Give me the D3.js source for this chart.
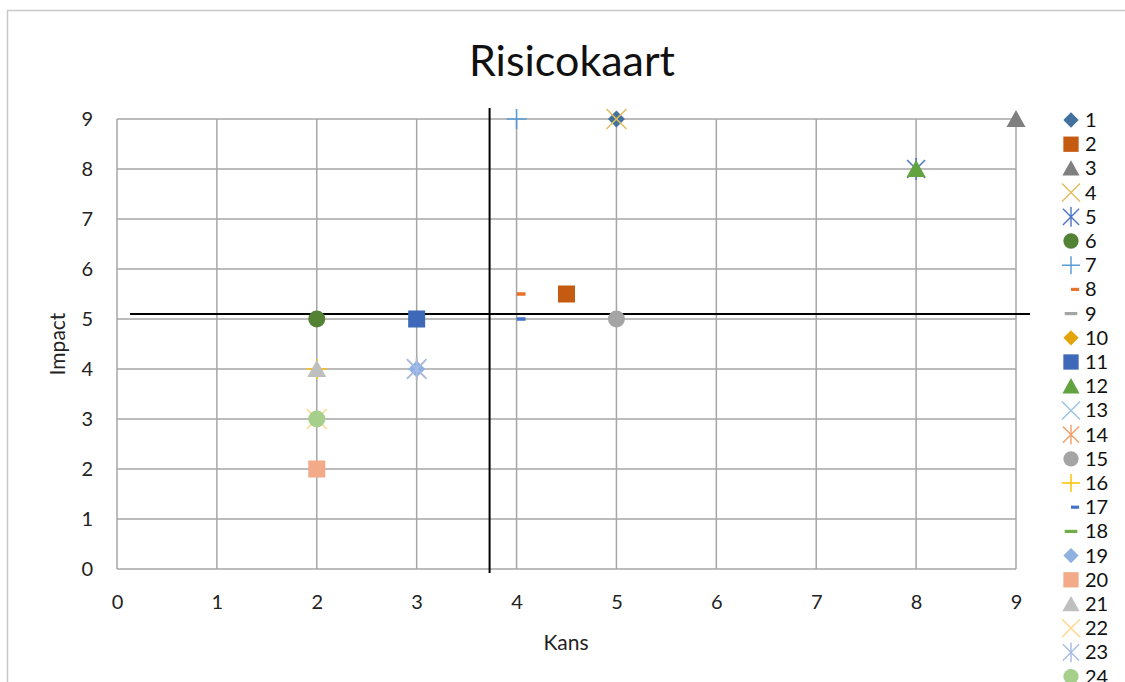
<!DOCTYPE html>
<html>
<head>
<meta charset="utf-8">
<script src="https://cdn.jsdelivr.net/npm/d3@7"></script>
<style>
  html, body { margin: 0; padding: 0; background: #fff; }
  svg { display: block; font-family: Lato, "Open Sans", sans-serif; }
</style>
</head>
<body>
<svg id="chart" width="1125" height="682"></svg>
<script>
// Risk items: likelihood (Kans) and impact per numbered risk
const series = ["1","2","3","4","5","6","7","8","9","10","11","12",
                "13","14","15","16","17","18","19","20","21","22","23","24"];
const kans   = [5, 4.5, 9, 5, 8, 2, 4, 4, 5, 3, 3, 8, 3, 3, 5, 2, 4, 2, 3, 2, 2, 2, 3, 2];
const impact = [9, 5.5, 9, 9, 8, 5, 9, 5.5, 5, 5, 5, 8, 4, 4, 5, 4, 5, 2, 4, 2, 4, 3, 4, 3];

const xTicks = [0,1,2,3,4,5,6,7,8,9];
const yTicks = [0,1,2,3,4,5,6,7,8,9];

// Quadrant dividers (data units)
const dividerH = { y: 5.1, x0: 0.13, x1: 9.14 };
const dividerV = { x: 3.73, y0: -0.08, y1: 9.22 };

// Marker styles per series
const markerShapes = ["diamond","square","triangle","x","star","circle","plus","dash","longdash",
                      "diamond","square","triangle","x","star","circle","plus","dash","longdash",
                      "diamond","square","triangle","x","star","circle"];
const markerColors = ["#41719c","#c55a11","#7f7f7f","#e2bd5f","#4f77c6","#548235",
                      "#5b9bd5","#e8722a","#a5a5a5","#e5a50a","#3e69b8","#62a33f",
                      "#9dc3e6","#f4a06a","#a5a5a5","#ffc000","#4472c4","#70ad47",
                      "#8fb1e0","#f2aa88","#bfbfbf","#ffd88c","#a9bce8","#a5cf8a"];

const svg = d3.select("#chart");
const W = 1125, H = 682;

// outer chart frame
svg.append("rect")
  .attr("x", 7.5).attr("y", 10.5).attr("width", W + 20).attr("height", H + 20)
  .attr("fill", "none").attr("stroke", "#c8c8c8").attr("stroke-width", 1.5);

const plot = { left: 117, right: 1016, top: 119, bottom: 569 };
const x = d3.scaleLinear().domain([0, 9]).range([plot.left, plot.right]);
const y = d3.scaleLinear().domain([0, 9]).range([plot.bottom, plot.top]);

// gridlines
const grid = svg.append("g").attr("stroke", "#a6a6a6").attr("stroke-width", 1.5);
grid.selectAll("line.v").data(xTicks).join("line")
  .attr("x1", d => x(d)).attr("x2", d => x(d))
  .attr("y1", plot.top).attr("y2", plot.bottom);
grid.selectAll("line.h").data(yTicks).join("line")
  .attr("y1", d => y(d)).attr("y2", d => y(d))
  .attr("x1", plot.left).attr("x2", plot.right);

// axes (labels only; lines are drawn by the grid)
const xAxis = svg.append("g").attr("transform", `translate(0,${plot.bottom})`)
  .call(d3.axisBottom(x).tickValues(xTicks).tickSize(0).tickPadding(26));
const yAxis = svg.append("g").attr("transform", `translate(${plot.left},0)`)
  .call(d3.axisLeft(y).tickValues(yTicks).tickSize(0).tickPadding(24));
[xAxis, yAxis].forEach(a => {
  a.select(".domain").remove();
  a.selectAll("text").attr("font-size", 20).attr("fill", "#222")
    .attr("font-family", "Lato, sans-serif");
});

// title and axis titles
svg.append("text").attr("x", 572).attr("y", 76).attr("text-anchor", "middle")
  .attr("font-size", 43).attr("fill", "#111").text("Risicokaart");
svg.append("text").attr("x", 566).attr("y", 650).attr("text-anchor", "middle")
  .attr("font-size", 21).attr("fill", "#222").text("Kans");
svg.append("text").attr("transform", "translate(65,344) rotate(-90)")
  .attr("text-anchor", "middle").attr("font-size", 21).attr("fill", "#222").text("Impact");

// quadrant divider lines
svg.append("line")
  .attr("x1", x(dividerH.x0)).attr("x2", x(dividerH.x1))
  .attr("y1", y(dividerH.y)).attr("y2", y(dividerH.y))
  .attr("stroke", "#000").attr("stroke-width", 2);
svg.append("line")
  .attr("x1", x(dividerV.x)).attr("x2", x(dividerV.x))
  .attr("y1", y(dividerV.y0)).attr("y2", y(dividerV.y1))
  .attr("stroke", "#000").attr("stroke-width", 2);

// marker drawing
function drawMarker(g, shape, color) {
  switch (shape) {
    case "diamond":
      g.append("path").attr("d", "M0,-8.5L8.5,0L0,8.5L-8.5,0Z").attr("fill", color);
      break;
    case "square":
      g.append("rect").attr("x", -8.5).attr("y", -8.5).attr("width", 17).attr("height", 17)
        .attr("fill", color);
      break;
    case "triangle":
      g.append("path").attr("d", "M0,-9L9.5,8L-9.5,8Z").attr("fill", color);
      break;
    case "circle":
      g.append("circle").attr("r", 8.5).attr("fill", color);
      break;
    case "x":
      g.append("path").attr("d", "M-10,-10L10,10M-10,10L10,-10")
        .attr("stroke", color).attr("stroke-width", 1.6).attr("fill", "none");
      break;
    case "star":
      g.append("path").attr("d", "M-9,-9L9,9M-9,9L9,-9M0,-11L0,11")
        .attr("stroke", color).attr("stroke-width", 1.6).attr("fill", "none");
      break;
    case "plus":
      g.append("path").attr("d", "M-10,0L10,0M0,-10L0,10")
        .attr("stroke", color).attr("stroke-width", 1.6).attr("fill", "none");
      break;
    case "dash":
      g.append("rect").attr("x", 0).attr("y", -1.75).attr("width", 9).attr("height", 3.5)
        .attr("fill", color);
      break;
    case "longdash":
      g.append("rect").attr("x", -7).attr("y", -1.75).attr("width", 14).attr("height", 3.5)
        .attr("fill", color);
      break;
  }
}

// data points, later series on top
const pts = svg.append("g");
series.forEach((name, i) => {
  const g = pts.append("g").attr("transform", `translate(${x(kans[i])},${y(impact[i])})`);
  drawMarker(g, markerShapes[i], markerColors[i]);
});

// legend
const legend = svg.append("g");
series.forEach((name, i) => {
  const ly = 120 + i * 24.2;
  const g = legend.append("g").attr("transform", `translate(1071,${ly})`);
  const mg = g.append("g").attr("transform", "scale(0.9)");
  drawMarker(mg, markerShapes[i], markerColors[i]);
  g.append("text").attr("x", 14).attr("y", 7).attr("font-size", 20).attr("fill", "#111").text(name);
});
</script>
</body>
</html>
